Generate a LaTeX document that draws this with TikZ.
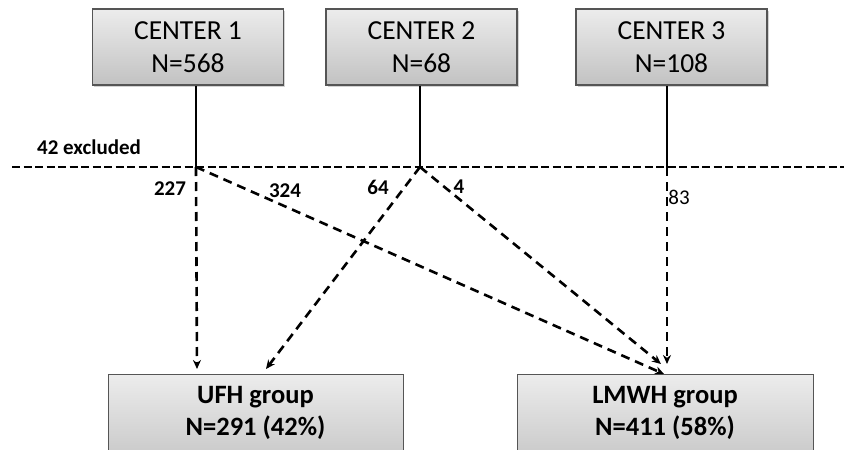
\documentclass[tikz,border=0pt]{standalone}
\usepackage{fontspec}
\setmainfont{Carlito}
\usetikzlibrary{arrows.meta,shadows,calc}
\definecolor{boxtop}{HTML}{ECECEC}
\definecolor{boxbot}{HTML}{C2C2C2}
\definecolor{boxline}{HTML}{555555}
\tikzset{
  x=1pt,y=-1pt,
  centerbox/.style={draw=boxline,line width=1.4pt,top color=boxtop,bottom color=boxbot,
    minimum width=191pt,minimum height=76pt,align=center,inner sep=0pt,
    font=\fontsize{27.5}{33}\selectfont,
    drop shadow={shadow xshift=1.5pt,shadow yshift=-1.5pt,opacity=0.35}},
  groupbox/.style={draw=boxline,line width=1.4pt,top color=boxtop,bottom color=boxbot,
    minimum height=100pt,inner sep=0pt,anchor=north west},
  grouptext/.style={font=\bfseries\fontsize{26.5}{32}\selectfont,align=center,inner sep=0pt,anchor=north},
  feed/.style={line width=2.6pt},
  split/.style={line width=2.8pt,dash pattern=on 8pt off 3.5pt},
  flow/.style={line width=2.6pt,dash pattern=on 9pt off 6pt,-{Stealth[length=9pt,width=8pt]}},
  num/.style={font=\bfseries\fontsize{21}{24}\selectfont,inner sep=0pt},
}
\begin{document}
\begin{tikzpicture}
\useasboundingbox (0,0) rectangle (844,450);
% top boxes
\node[centerbox] (c1) at (188,47) {CENTER 1\\N=568};
\node[centerbox] (c2) at (421.5,47) {CENTER 2\\N=68};
\node[centerbox] (c3) at (671.5,47) {CENTER 3\\N=108};
% bottom boxes
\node[groupbox,minimum width=295pt] (ufh) at (108,374) {};
\node[groupbox,minimum width=296pt] (lmwh) at (517,374) {};
\node[grouptext] (ufht) at (255.5,386) {UFH group\\N=291 (42\%)};
\node[grouptext] (lmwht) at (665,386) {LMWH group\\N=411 (58\%)};
% junctions
\coordinate (l0) at (12,167);
\coordinate (l1) at (844,167);
\coordinate (j1) at (196,167);
\coordinate (j2) at (420,167);
\coordinate (j3) at (667,167);
\coordinate (u1) at (197,369);
\coordinate (u2) at (266,369);
\coordinate (m1) at (667,364);
\coordinate (m2) at (661,364);
\coordinate (m3) at (664,374);
% lines
\draw[split] (l0) -- (l1);
\draw[feed] (c1.south -| j1) -- (j1);
\draw[feed] (c2.south -| j2) -- (j2);
\draw[feed] (c3.south -| j3) -- (j3);
\draw[flow] (j1) -- (u1);
\draw[flow] (j1) -- (m3);
\draw[flow] (j2) -- (u2);
\draw[flow] (j2) -- (m2);
\draw[flow] (j3) -- (m1);
% labels
\node[num] (ex) at (89,147) {42 excluded};
\node[num] (n227) at (170,189) {227};
\node[num] (n324) at (285,191) {324};
\node[num] (n64) at (378,187) {64};
\node[num] (n4) at (459,187) {4};
\node[num,font=\fontsize{21}{24}\selectfont] (n83) at (679,197) {83};
\end{tikzpicture}
\end{document}
